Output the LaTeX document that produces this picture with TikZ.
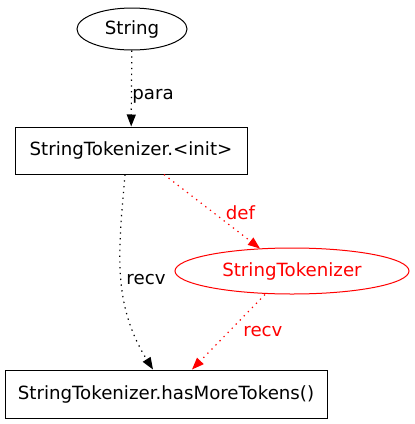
\documentclass[tikz,border=0pt]{standalone}
\usepackage{fontspec}
\setmainfont{DejaVu Sans}
\usetikzlibrary{shapes.geometric}
\usetikzlibrary{arrows.meta}

\tikzset{
  elabel/.style={font=\fontsize{18.2}{20}\selectfont},
  oval/.style={ellipse, draw, line width=1pt, inner sep=0pt, font=\fontsize{18.2}{20}\selectfont},
  box/.style={rectangle, draw, line width=1pt, inner sep=0pt, font=\fontsize{18.2}{20}\selectfont},
  dotline/.style={line width=1.2pt, dash pattern=on 1.3pt off 4.5pt, -{Triangle[length=12pt,width=9pt]}},
}

\begin{document}
\begin{tikzpicture}[x=1pt,y=-1pt]
            \useasboundingbox (0,0) rectangle (415,424);
            % Nodes
            \node[oval, minimum width=110pt, minimum height=42pt] (str) at (132,29) {String};
            \node[box, minimum width=232pt, minimum height=47pt] (init) at (131,150.5) {StringTokenizer.<init>};
            \node[oval, red, text=red, minimum width=234pt, minimum height=46pt] (tok) at (292,271) {StringTokenizer};
            \node[box, minimum width=322pt, minimum height=48pt] (has) at (166,394) {StringTokenizer.hasMoreTokens()};
            
            % Black edges
            \draw[dotline] (str) -- (init) node[elabel, pos=0.6, right, xshift=-3pt] {para};
            \draw[dotline] ([xshift=-6pt]init.south) to[out=-95, in=122]
                node[elabel, pos=0.52, right, xshift=1pt] {recv} ([xshift=-13pt]has.north);
            
            % Red edges
            \draw[dotline, red] ([xshift=33pt]init.south) -- ([xshift=-32pt, yshift=-1pt]tok.north)
                node[elabel, midway, right, xshift=10pt, yshift=-1pt] {def};
            \draw[dotline, red] ([xshift=-27pt]tok.south) -- ([xshift=26pt]has.north)
                node[elabel, midway, right, xshift=11pt] {recv};
        \end{tikzpicture}
\end{document}
